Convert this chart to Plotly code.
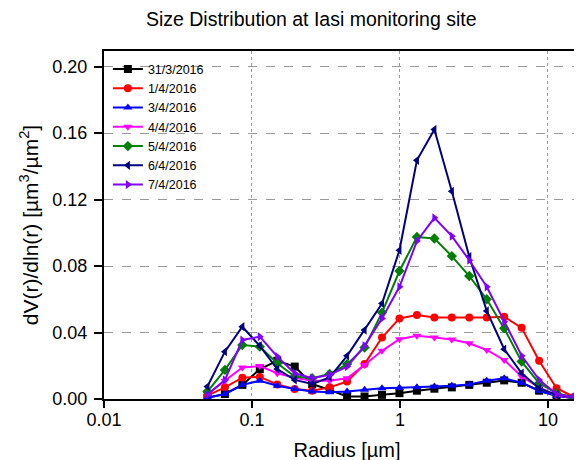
import plotly.graph_objects as go

radius = [0.05, 0.065604, 0.086077, 0.112939, 0.148184, 0.194429, 0.255105,
          0.334716, 0.439173, 0.576227, 0.756052, 0.991996, 1.301571, 1.707757,
          2.240702, 2.939966, 3.857452, 5.06126, 6.640745, 8.713145, 11.432287, 15.0]

d_31_3 = [0.0008, 0.003, 0.0085, 0.018, 0.023, 0.0195, 0.009, 0.0055, 0.0015, 0.0015,
          0.0025, 0.0035, 0.005, 0.0062, 0.007, 0.0085, 0.0098, 0.0112, 0.0098, 0.005,
          0.002, 0.0005]
d_1_4 = [0.002, 0.007, 0.0128, 0.0133, 0.0088, 0.006, 0.005, 0.007, 0.0105, 0.021,
         0.037, 0.0485, 0.0505, 0.049, 0.049, 0.049, 0.049, 0.0495, 0.0428, 0.023,
         0.0065, 0.0012]
d_3_4 = [0.0008, 0.003, 0.0085, 0.011, 0.008, 0.006, 0.0045, 0.004, 0.0045, 0.0055,
         0.0065, 0.0068, 0.007, 0.0075, 0.008, 0.0088, 0.011, 0.0125, 0.0098, 0.0048,
         0.002, 0.0005]
d_4_4 = [0.003, 0.011, 0.019, 0.0198, 0.0155, 0.0128, 0.011, 0.011, 0.0125, 0.0205,
         0.029, 0.036, 0.038, 0.037, 0.0358, 0.0335, 0.0295, 0.0235, 0.0135, 0.007,
         0.002, 0.001]
d_5_4 = [0.0045, 0.0175, 0.0325, 0.0315, 0.0215, 0.0135, 0.0125, 0.015, 0.021, 0.031,
         0.052, 0.077, 0.0975, 0.0966, 0.086, 0.074, 0.060, 0.0425, 0.0225, 0.0095,
         0.0035, 0.001]
d_6_4 = [0.0075, 0.0285, 0.0435, 0.032, 0.018, 0.0115, 0.009, 0.013, 0.026, 0.0415,
         0.0575, 0.0895, 0.1436, 0.1622, 0.125, 0.0856, 0.053, 0.030, 0.0155, 0.0065,
         0.0025, 0.001]
d_7_4 = [0.0025, 0.0115, 0.0355, 0.0375, 0.0255, 0.0155, 0.0125, 0.0145, 0.0195, 0.032,
         0.0485, 0.0675, 0.095, 0.109, 0.098, 0.0835, 0.0675, 0.0465, 0.026, 0.0115,
         0.003, 0.001]

labels = ["31/3/2016", "1/4/2016", "3/4/2016", "4/4/2016", "5/4/2016", "6/4/2016", "7/4/2016"]
series = [d_31_3, d_1_4, d_3_4, d_4_4, d_5_4, d_6_4, d_7_4]
colors = ["#000000", "#FF0000", "#0000FF", "#FF00FF", "#008000", "#000080", "#8000FF"]
symbols = ["square", "circle", "triangle-up", "triangle-down", "diamond",
           "triangle-left", "triangle-right"]

xticks = [0.01, 0.1, 1, 10]
xticktext = ["0.01", "0.1", "1", "10"]
yticks = [0.0, 0.04, 0.08, 0.12, 0.16, 0.20]

FONT = "Liberation Sans, Arial, sans-serif"

fig = go.Figure()
for lab, ys, c, s in zip(labels, series, colors, symbols):
    fig.add_trace(go.Scatter(
        x=radius, y=ys, name=lab, mode="lines+markers",
        line=dict(color=c, width=2),
        marker=dict(color=c, symbol=s, size=8, line=dict(width=0)),
    ))

fig.update_layout(
    width=582, height=460,
    margin=dict(l=96, r=0, t=43, b=69),
    paper_bgcolor="white", plot_bgcolor="white",
    font=dict(family=FONT, color="black", size=16),
    title=dict(text="Size Distribution at Iasi monitoring site",
               x=0.521, xanchor="center", y=0.975, yanchor="middle",
               font=dict(family=FONT, size=19.5, color="black")),
    showlegend=True,
    legend=dict(x=0.008, y=0.99, xanchor="left", yanchor="top",
                bgcolor="rgba(0,0,0,0)", borderwidth=0,
                font=dict(family=FONT, size=12.5, color="black"),
                tracegroupgap=0, itemwidth=30),
)

fig.update_xaxes(
    type="log", range=[-2, 1.284], automargin=False,
    tickvals=xticks, ticktext=xticktext,
    showline=True, linecolor="black", linewidth=2, mirror=True,
    ticks="outside", ticklen=7, tickwidth=2, tickcolor="black",
    ticklabelstandoff=-4,
    showgrid=True, gridcolor="#999999", gridwidth=1, griddash="dot",
    tickfont=dict(family=FONT, size=18),
    title=dict(text="Radius [µm]", font=dict(family=FONT, size=20), standoff=14),
    zeroline=False,
)
fig.update_yaxes(
    range=[0, 0.2094], automargin=False,
    tickvals=yticks, tickformat=".2f",
    showline=True, linecolor="black", linewidth=2, mirror=False,
    ticks="outside", ticklen=8, tickwidth=2, tickcolor="black",
    ticklabelstandoff=3,
    showgrid=True, gridcolor="#999999", gridwidth=1, griddash="dash",
    tickfont=dict(family=FONT, size=18),
    title=dict(text="dV(r)/dln(r) [µm<sup>3</sup>/µm<sup>2</sup>]",
               font=dict(family=FONT, size=21), standoff=8),
    zeroline=False,
)

fig.write_html("out.html")
